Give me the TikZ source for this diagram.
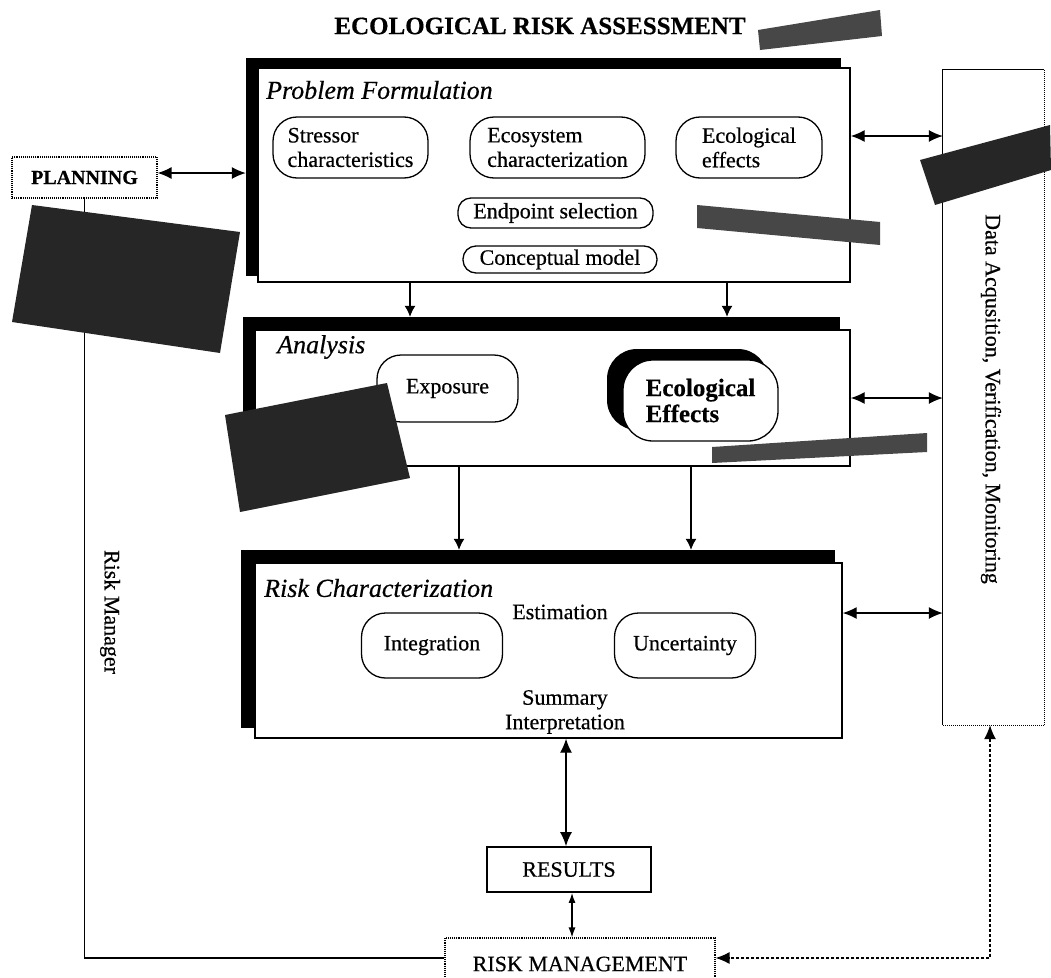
\documentclass[tikz,border=0pt]{standalone}
\usepackage{fontspec}
\setmainfont{Liberation Serif}[FakeBold=0.5]
\usetikzlibrary{arrows.meta}
\begin{document}
\begin{tikzpicture}[x=1pt,y=-1pt,
  txt/.style={font=\fontsize{22}{24.5}\selectfont, align=center, inner sep=0pt},
  head/.style={font=\fontsize{26}{30}\selectfont\itshape, anchor=west, inner sep=0pt},
  rbox/.style={txt, draw, line width=1.3pt, rounded corners=24pt, fill=white},
  sbox/.style={txt, draw, line width=1.3pt, rounded corners=13pt, fill=white},
  bigbox/.style={draw, line width=1.4pt, fill=white, inner sep=0pt},
  shadow/.style={fill=black, inner sep=0pt},
  arr/.style={-{Latex[length=11pt,width=11pt]}, line width=1.2pt},
  dbl/.style={{Latex[length=14pt,width=12pt]}-{Latex[length=14pt,width=12pt]}, line width=1.3pt},
  sdbl/.style={{Latex[length=10pt,width=7pt]}-{Latex[length=10pt,width=7pt]}, line width=1.2pt},
  patch/.style={fill=black!85},
  lpatch/.style={fill=black!72}
]
\useasboundingbox (0,0) rectangle (1051,977);

% title
\node[font=\fontsize{25}{29}\selectfont\bfseries, inner sep=0pt] (title) at (540,26) {ECOLOGICAL RISK ASSESSMENT};

% Problem Formulation
\node[shadow, minimum width=595pt, minimum height=218pt] (pfs) at (543.5,167) {};
\node[bigbox, minimum width=592pt, minimum height=214pt] (pf) at (554,175) {};
\node[head] (pft) at (266,90) {Problem Formulation};
\node[rbox, align=left, minimum width=155pt, minimum height=61pt] (stress) at (350.5,147.5) {Stressor\\characteristics};
\node[rbox, align=left, minimum width=175pt, minimum height=61pt] (ecosys) at (557.5,147.5) {Ecosystem\\characterization};
\node[rbox, align=left, minimum width=146pt, minimum height=61pt] (ecoeff) at (749,147.5) {Ecological\\effects};
\node[sbox, minimum width=195pt, minimum height=30pt] (endp) at (555.5,213) {Endpoint selection};
\node[sbox, minimum width=194pt, minimum height=27pt] (concept) at (560,259.5) {Conceptual model};

% Analysis
\node[shadow, minimum width=597pt, minimum height=142pt] (ans) at (541.5,388) {};
\node[bigbox, minimum width=595pt, minimum height=136pt] (an) at (552.5,398) {};
\node[head] (ant) at (277,347) {Analysis};
\node[rbox, minimum width=141pt, minimum height=67pt] (expo) at (447.5,388.5) {Exposure};
\node[fill=black, rounded corners=30pt, minimum width=161pt, minimum height=81pt, inner sep=0pt] (effs) at (687.5,389.5) {};
\node[rbox, rounded corners=30pt, minimum width=155pt, minimum height=81pt, font=\fontsize{25}{26}\selectfont\bfseries, align=left] (eff) at (700.5,400.5) {Ecological\\Effects};

% Risk Characterization
\node[shadow, minimum width=594pt, minimum height=178pt] (rcs) at (538,639) {};
\node[bigbox, minimum width=587pt, minimum height=175pt] (rc) at (548.5,650.5) {};
\node[head] (rct) at (264,588) {Risk Characterization};
\node[txt] (est) at (560,612) {Estimation};
\node[rbox, minimum width=141pt, minimum height=65pt] (integ) at (432,645.5) {Integration};
\node[rbox, minimum width=141pt, minimum height=65pt] (uncert) at (685,645.5) {Uncertainty};
\node[txt] (summ) at (565,712) {Summary\\Interpretation};

% Results and risk management
\node[txt, draw, line width=1.8pt, minimum width=164pt, minimum height=45pt] (res) at (569,869.5) {RESULTS};
\node[txt, draw, densely dotted, line width=1.1pt, minimum width=270pt, minimum height=52pt] (rm) at (580,964) {RISK MANAGEMENT};

% Planning
\node[txt, font=\fontsize{20}{23}\selectfont\bfseries, draw, densely dotted, line width=1.1pt, minimum width=145pt, minimum height=41pt] (plan) at (84.5,177.5) {PLANNING};

% Data box
\node[inner sep=0pt, minimum width=101pt, minimum height=655pt] (data) at (993.5,397.5) {};
\draw[line width=1pt] (data.south west) -- (data.north west) -- (data.north east);
\draw[line width=1pt, densely dotted] (data.north east) -- (data.south east) -- (data.south west);
\node[txt, rotate=-90] (datat) at (991,399) {Data Acqusition, Verification, Monitoring};

% Risk Manager label
\node[txt, rotate=-90] (rmgr) at (110,612) {Risk Manager};

% guide coordinates
\coordinate (g1) at (410,0);
\coordinate (g2) at (727,0);
\coordinate (g3) at (459,0);
\coordinate (g4) at (691,0);
\coordinate (g5) at (566,0);
\coordinate (g6) at (572,0);
\coordinate (g7) at (990,0);
\coordinate (h1) at (0,136);
\coordinate (h2) at (0,398);
\coordinate (h3) at (0,613);
\coordinate (h4) at (0,958);
\coordinate (h5) at (0,173);

% connectors
\draw[dbl] (plan.east |- h5) -- (pfs.west |- h5);
\draw[arr] (pf.south -| g1) -- (ans.north -| g1);
\draw[arr] (pf.south -| g2) -- (ans.north -| g2);
\draw[arr] (an.south -| g3) -- (rcs.north -| g3);
\draw[arr] (an.south -| g4) -- (rcs.north -| g4);
\draw[dbl] (pf.east |- h1) -- (data.west |- h1);
\draw[dbl] (an.east |- h2) -- (data.west |- h2);
\draw[dbl] (rc.east |- h3) -- (data.west |- h3);
\draw[dbl] (rc.south -| g5) -- (res.north -| g5);
\draw[sdbl] (res.south -| g6) -- (rm.north -| g6);
\draw[line width=1.1pt] (plan.south) -- (plan.south |- h4) -- (rm.west |- h4);
\draw[dbl, densely dashed, line width=1.2pt] (data.south -| g7) |- (rm.east |- h4);

% scan patches
\fill[lpatch] (758,30) -- (880,10) -- (882,36) -- (760,50) -- cycle;
\fill[patch] (32,205) -- (240,232) -- (220,353) -- (12,322) -- cycle;
\fill[lpatch] (697,205) -- (880,222) -- (880,245) -- (697,228) -- cycle;
\fill[patch] (225,415) -- (387,383) -- (410,478) -- (240,512) -- cycle;
\fill[lpatch] (712,447) -- (927,433) -- (927,452) -- (712,463) -- cycle;
\fill[patch] (920,160) -- (1050,125) -- (1051,170) -- (935,205) -- cycle;
\end{tikzpicture}
\end{document}
